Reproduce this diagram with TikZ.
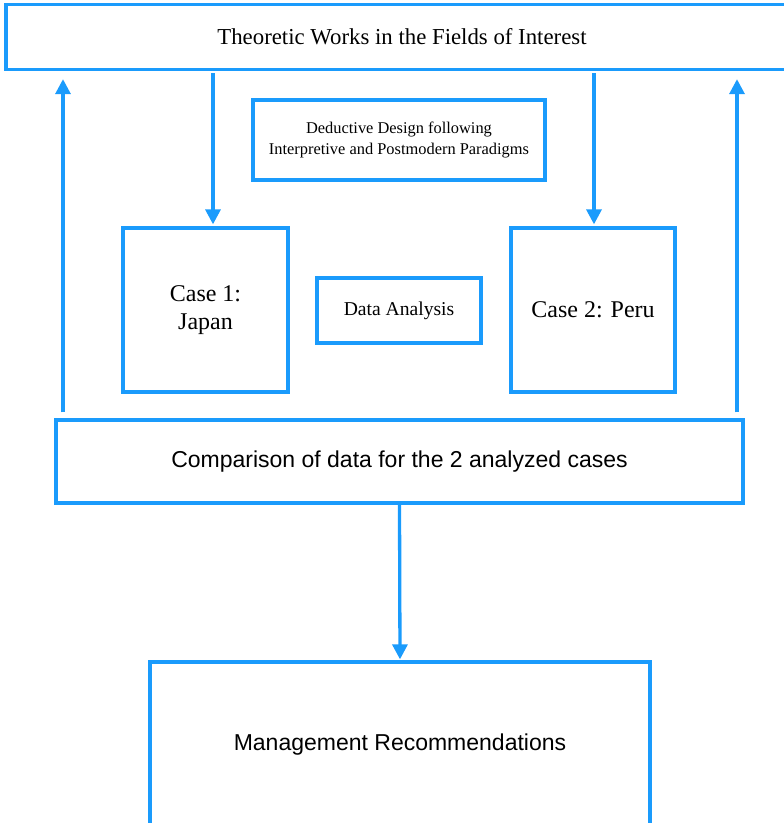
\documentclass[tikz,border=0pt]{standalone}
\usepackage{fontspec}
\setmainfont{Liberation Serif}
\setsansfont{Liberation Sans}
\usetikzlibrary{arrows.meta,positioning}
\definecolor{flow}{HTML}{1A9BFC}

\begin{document}
\begin{tikzpicture}[x=1pt,y=-1pt,
box/.style={draw=flow,line width=3.3pt,align=center,inner sep=0pt},
arr/.style={-{Triangle[length=15pt,width=15pt]},draw=flow,line width=3.3pt}]
\useasboundingbox (0,0) rectangle (784,823);
\node[box,minimum width=792pt,minimum height=65pt,font=\fontsize{22.8}{26}\selectfont] (theory) at (402,37) {Theoretic Works in the Fields of Interest};
\node[box,minimum width=292pt,minimum height=80pt,font=\fontsize{16.4}{21}\selectfont] (design) at (399,140) {Deductive Design following\\Interpretive and Postmodern Paradigms};
\node[box,minimum width=165pt,minimum height=164pt,font=\fontsize{24}{28}\selectfont] (case1) at (205.5,310) {Case 1:\\Japan};
\node[box,minimum width=164pt,minimum height=65pt,font=\fontsize{19.6}{23}\selectfont] (analysis) at (399,310.5) {Data Analysis};
\node[box,minimum width=164pt,minimum height=164pt,font=\fontsize{24}{28}\selectfont] (case2) at (593,310) {Case 2: Peru};
\node[box,minimum width=687pt,minimum height=83pt,font=\sffamily\fontsize{23}{27}\selectfont] (compare) at (399.5,461.5) {Comparison of data for the 2 analyzed cases};
\node[box,minimum width=500pt,minimum height=166pt,font=\sffamily\fontsize{23}{27}\selectfont] (mgmt) at (400,745) {Management Recommendations};
\coordinate (d1) at (213,0); \coordinate (d2) at (594,0);
\coordinate (u1) at (63,0); \coordinate (u2) at (737,0);
\draw[arr,shorten <=2pt,shorten >=2pt] (theory.south -| d1) -- (case1.north -| d1);
\draw[arr,shorten <=2pt,shorten >=2pt] (theory.south -| d2) -- (case2.north -| d2);
\draw[arr,shorten <=6pt,shorten >=8pt] (compare.north -| u1) -- (theory.south -| u1);
\draw[arr,shorten <=6pt,shorten >=8pt] (compare.north -| u2) -- (theory.south -| u2);
\draw[arr,shorten >=1pt] (compare.south) -- (mgmt.north);
\end{tikzpicture}
\end{document}
